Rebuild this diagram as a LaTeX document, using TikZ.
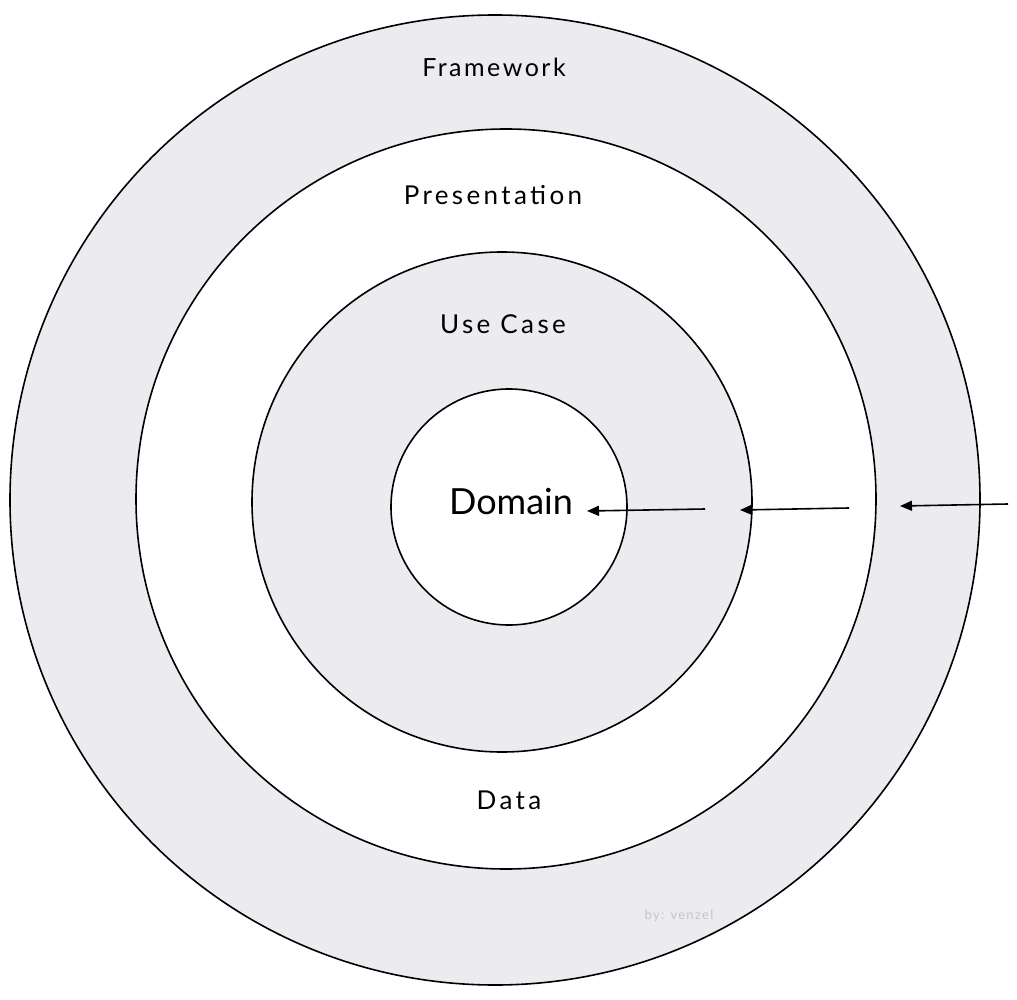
\documentclass[tikz,border=0pt]{standalone}
\usepackage{fontspec}
\setmainfont{Lato}
\newfontfamily\handfont[LetterSpace=10]{Lato}
\newfontfamily\handwide[LetterSpace=13]{Lato}
\usetikzlibrary{arrows.meta}
\definecolor{ringgray}{HTML}{ECEBF0}
\definecolor{signgray}{HTML}{C4C4C4}
\tikzset{
  ring/.style={draw=black, line width=1.6pt, circle},
  lbl/.style={font=\handfont\fontsize{25}{30}\selectfont, text=black},
  lblwide/.style={font=\handwide\fontsize{26}{31}\selectfont, text=black},
  arr/.style={draw=black, line width=1.6pt, -{Triangle[length=12pt,width=10pt]}}
}
\begin{document}
\begin{tikzpicture}[x=1pt,y=-1pt]
\useasboundingbox (0,0) rectangle (1017,1000);
\fill[white] (0,0) rectangle (1017,1000);
\draw[ring, fill=ringgray] (495,500) circle (485);
\draw[ring, fill=white] (506,499) circle (370);
\draw[ring, fill=ringgray] (502,502) circle (250);
\draw[ring, fill=white] (509,507) circle (118);
\node[lbl] (framework) at (494,67) {Framework};
\node[lblwide] (presentation) at (493,195) {Presentation};
\node[lblwide] (usecase) at (503,324) {Use Case};
\node[lblwide] (data) at (509,800) {Data};
\node[font=\fontsize{36}{42}\selectfont] (domain) at (511,502) {Domain};
\node[font=\handfont\fontsize{13}{15}\selectfont, text=signgray] (sign) at (679,916) {by: venzel};
\coordinate (a3s) at (1008,504);
\coordinate (a3e) at (900,506);
\coordinate (a2s) at (849,508);
\coordinate (a2e) at (740,510);
\coordinate (a1s) at (705,509);
\coordinate (a1e) at (587,511);
\draw[arr] (a3s) -- (a3e);
\draw[arr] (a2s) -- (a2e);
\draw[arr] (a1s) -- (a1e);
\end{tikzpicture}
\end{document}
